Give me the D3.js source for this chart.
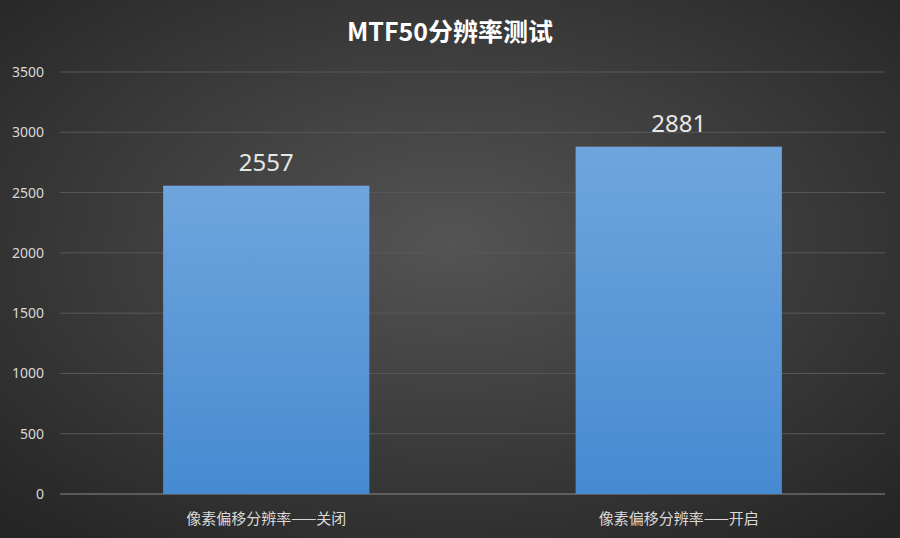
<!DOCTYPE html>
<html><head><meta charset="utf-8">
<script src="https://cdn.jsdelivr.net/npm/d3@7"></script>
<style>body{margin:0;background:#333}</style></head>
<body><svg id="c" width="900" height="538"></svg>
<script>
const categories = ["像素偏移分辨率——关闭", "像素偏移分辨率——开启"];
const values = [2557, 2881];
const yTicks = [0, 500, 1000, 1500, 2000, 2500, 3000, 3500];
const title = "MTF50分辨率测试";

const svg = d3.select("#c");
const defs = svg.append("defs");
const rg = defs.append("radialGradient").attr("id","bg").attr("cx","50%").attr("cy","45%").attr("r","70%");
rg.append("stop").attr("offset","0%").attr("stop-color","#545454");
rg.append("stop").attr("offset","100%").attr("stop-color","#262626");
const lg = defs.append("linearGradient").attr("id","bar").attr("x1",0).attr("y1",0).attr("x2",0).attr("y2",1);
lg.append("stop").attr("offset","0%").attr("stop-color","#6fa5dd");
lg.append("stop").attr("offset","100%").attr("stop-color","#468ad1");
svg.append("rect").attr("width",900).attr("height",538).attr("fill","url(#bg)");

const L=60,R=885,T=72,B=494;
const x = d3.scaleBand().domain(categories).range([L,R]).paddingInner(0.5).paddingOuter(0.25);
const y = d3.scaleLinear().domain([0,3500]).range([B,T]);

svg.append("g").selectAll("line").data(yTicks).join("line")
  .attr("x1",L).attr("x2",R).attr("y1",d=>y(d)).attr("y2",d=>y(d))
  .attr("stroke",d=>d===0?"#8a8a8a":"#595959").attr("stroke-width",1);
svg.append("g").selectAll("text").data(yTicks).join("text")
  .attr("x",44).attr("y",d=>y(d)+5).attr("text-anchor","end")
  .attr("fill","#d9d9d9").style("font","14px 'Noto Sans',sans-serif").text(d=>d);

svg.append("g").selectAll("rect").data(values).join("rect")
  .attr("x",(d,i)=>x(categories[i])).attr("width",x.bandwidth())
  .attr("y",d=>y(d)).attr("height",d=>B-y(d)).attr("fill","url(#bar)");
svg.append("g").selectAll("text").data(values).join("text")
  .attr("x",(d,i)=>x(categories[i])+x.bandwidth()/2).attr("y",d=>y(d)-15)
  .attr("text-anchor","middle").attr("fill","#e6e6e6")
  .style("font","24px 'Noto Sans',sans-serif").text(d=>d);
svg.append("g").selectAll("text").data(categories).join("text")
  .attr("x",d=>x(d)+x.bandwidth()/2).attr("y",524).attr("text-anchor","middle")
  .attr("fill","#d9d9d9").style("font","15px 'Noto Sans CJK SC',sans-serif").text(d=>d);
svg.append("text").attr("x",450).attr("y",41).attr("text-anchor","middle")
  .attr("fill","#ffffff").style("font","bold 25px 'Noto Sans CJK SC',sans-serif").text(title);
</script></body></html>
